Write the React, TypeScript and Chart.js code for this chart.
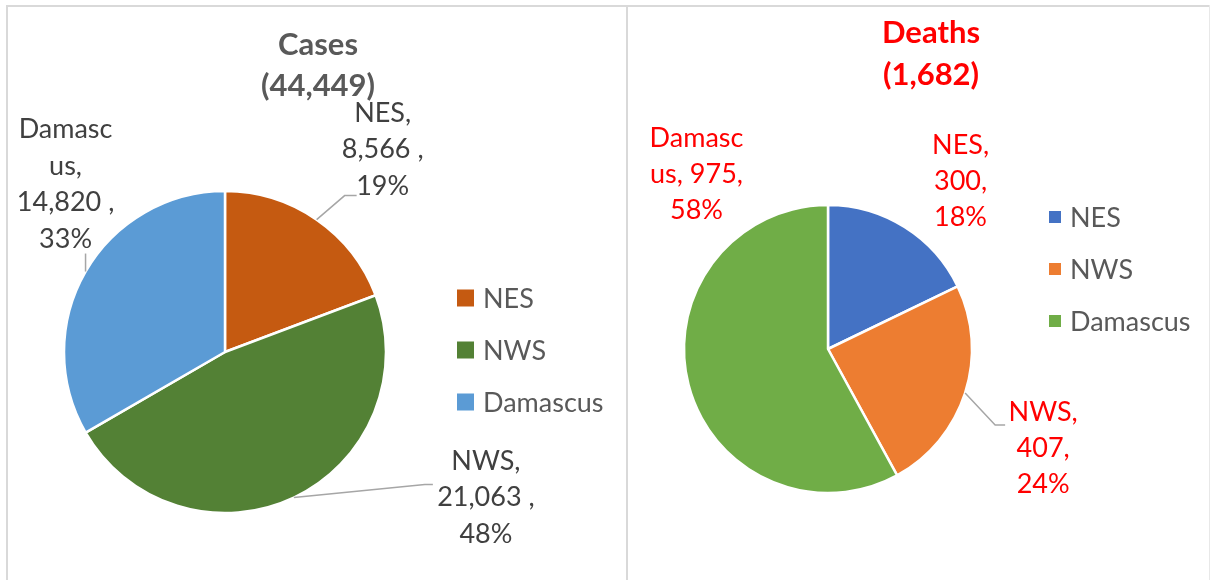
import React, { useEffect, useRef } from "react";
import { Chart, registerables } from "chart.js";

Chart.register(...registerables);

const categories = ["NES", "NWS", "Damascus"];
const casesValues = [8566, 21063, 14820];
const casesPercents = [19, 48, 33];
const deathsValues = [300, 407, 975];
const deathsPercents = [18, 24, 58];
const casesTitle = ["Cases", "(44,449)"];
const deathsTitle = ["Deaths", "(1,682)"];
const casesColors = ["#C55A11", "#538135", "#5B9BD5"];
const deathsColors = ["#4472C4", "#ED7D31", "#70AD47"];

const FONT = "Lato, 'Noto Sans', sans-serif";

function fmt(v: number) {
  return v.toLocaleString("en-US");
}

function casesLabelLines(name: string, v: number, p: number) {
  const pct = p + "%";
  if (name === "Damascus") return ["Damasc", "us,", fmt(v) + " ,", pct];
  return [name + ",", fmt(v) + " ,", pct];
}
function deathsLabelLines(name: string, v: number, p: number) {
  const pct = p + "%";
  if (name === "Damascus") return ["Damasc", "us, " + fmt(v) + ",", pct];
  return [name + ",", fmt(v) + ",", pct];
}

type PanelCfg = {
  values: number[];
  percents: number[];
  colors: string[];
  title: string[];
  titleColor: string;
  titleX: number;
  titleY: number[];
  titleFont: string;
  labelColor: string;
  labelFont: string;
  lineH: number;
  labelFn: (n: string, v: number, p: number) => string[];
  labelOffsets: number[][];
  leaders: (number[][] | null)[];
  legend: { boxX: number; box: number; textX: number; startY: number; gap: number };
  radius: number;
  padding: { left: number; right: number; top: number; bottom: number };
  width: number;
  height: number;
};

function makePlugin(cfg: PanelCfg) {
  return {
    id: "custom-" + cfg.title[0],
    afterDraw(chart: any) {
      const ctx = chart.ctx;
      const meta = chart.getDatasetMeta(0);
      ctx.save();
      // title
      ctx.fillStyle = cfg.titleColor;
      ctx.font = cfg.titleFont;
      ctx.textAlign = "center";
      ctx.textBaseline = "middle";
      cfg.title.forEach((t, i) => ctx.fillText(t, cfg.titleX, cfg.titleY[i]));
      // labels + leaders
      meta.data.forEach((arc: any, i: number) => {
        const mid = (arc.startAngle + arc.endAngle) / 2;
        const ox = arc.x + Math.cos(mid) * arc.outerRadius;
        const oy = arc.y + Math.sin(mid) * arc.outerRadius;
        const ld = cfg.leaders[i];
        if (ld) {
          ctx.strokeStyle = "#A6A6A6";
          ctx.lineWidth = 1.5;
          ctx.beginPath();
          ctx.moveTo(ox, oy);
          ld.forEach((p) => ctx.lineTo(ox + p[0], oy + p[1]));
          ctx.stroke();
        }
        const lines = cfg.labelFn(categories[i], cfg.values[i], cfg.percents[i]);
        const [dx, dy] = cfg.labelOffsets[i];
        const cx = ox + dx;
        const cy = oy + dy;
        ctx.fillStyle = cfg.labelColor;
        ctx.font = cfg.labelFont;
        ctx.textAlign = "center";
        ctx.textBaseline = "middle";
        const n = lines.length;
        lines.forEach((l, k) => {
          ctx.fillText(l, cx, cy + (k - (n - 1) / 2) * cfg.lineH);
        });
      });
      // legend
      const lg = cfg.legend;
      categories.forEach((c, i) => {
        const y = lg.startY + i * lg.gap;
        ctx.fillStyle = cfg.colors[i];
        ctx.fillRect(lg.boxX, y - lg.box / 2, lg.box, lg.box);
        ctx.fillStyle = "#595959";
        ctx.font = cfg.labelFont;
        ctx.textAlign = "left";
        ctx.textBaseline = "middle";
        ctx.fillText(c, lg.textX, y + 1);
      });
      ctx.restore();
    },
  };
}

function PiePanel({ cfg, left }: { cfg: PanelCfg; left: number }) {
  const ref = useRef<HTMLCanvasElement>(null);
  useEffect(() => {
    if (!ref.current) return;
    const chart = new Chart(ref.current, {
      type: "pie",
      data: {
        labels: categories,
        datasets: [
          {
            data: cfg.values,
            backgroundColor: cfg.colors,
            borderColor: "#FFFFFF",
            borderWidth: 2.5,
            radius: cfg.radius,
          } as any,
        ],
      },
      options: {
        responsive: false,
        animation: false,
        events: [],
        layout: { padding: cfg.padding },
        plugins: {
          legend: { display: false },
          title: { display: false },
          tooltip: { enabled: false },
        },
      },
      plugins: [makePlugin(cfg)],
    });
    return () => chart.destroy();
  }, []);
  return (
    <canvas
      ref={ref}
      width={cfg.width}
      height={cfg.height}
      style={{ position: "absolute", left, top: 0, width: cfg.width, height: cfg.height }}
    />
  );
}

const casesCfg: PanelCfg = {
  values: casesValues,
  percents: casesPercents,
  colors: casesColors,
  title: casesTitle,
  titleColor: "#595959",
  titleX: 318,
  titleY: [45, 86],
  titleFont: "bold 31px " + FONT,
  labelColor: "#404040",
  labelFont: "27px " + FONT,
  lineH: 36.5,
  labelFn: casesLabelLines,
  labelOffsets: [
    [66, -70],
    [192, 0],
    [-20, -87],
  ],
  leaders: [
    [
      [28, -24],
      [40, -24],
    ],
    [
      [131, -13],
      [139, -13],
    ],
    [[0, -18]],
  ],
  legend: { boxX: 457, box: 17, textX: 483, startY: 298, gap: 52 },
  radius: 161,
  padding: { left: 64, right: 626 - 386, top: 191, bottom: 580 - 513 },
  width: 626,
  height: 580,
};

const deathsCfg: PanelCfg = {
  values: deathsValues,
  percents: deathsPercents,
  colors: deathsColors,
  title: deathsTitle,
  titleColor: "#FF0000",
  titleX: 303,
  titleY: [33, 75],
  titleFont: "bold 31px " + FONT,
  labelColor: "#FF0000",
  labelFont: "27px " + FONT,
  lineH: 36,
  labelFn: deathsLabelLines,
  labelOffsets: [
    [56, -46],
    [78, 55],
    [8, -210],
  ],
  leaders: [
    null,
    [
      [30, 32],
      [40, 32],
    ],
    null,
  ],
  legend: { boxX: 421, box: 12, textX: 442, startY: 217, gap: 52 },
  radius: 144,
  padding: { left: 56, right: 236, top: 205, bottom: 87 },
  width: 580,
  height: 580,
};

export default function App() {
  const line = (l: number, t: number, w: number, h: number, c = "#D9D9D9") => (
    <div style={{ position: "absolute", left: l, top: t, width: w, height: h, background: c }} />
  );
  return (
    <div
      style={{
        position: "absolute",
        left: 0,
        top: 0,
        width: 1211,
        height: 580,
        background: "#FFFFFF",
        overflow: "hidden",
      }}
    >
      {line(6, 5, 1204, 2)}
      {line(6, 5, 2, 575)}
      {line(626, 5, 2, 575)}
      {line(1209, 5, 1, 575, "#E8E8E8")}
      <PiePanel cfg={casesCfg} left={0} />
      <PiePanel cfg={deathsCfg} left={628} />
    </div>
  );
}
